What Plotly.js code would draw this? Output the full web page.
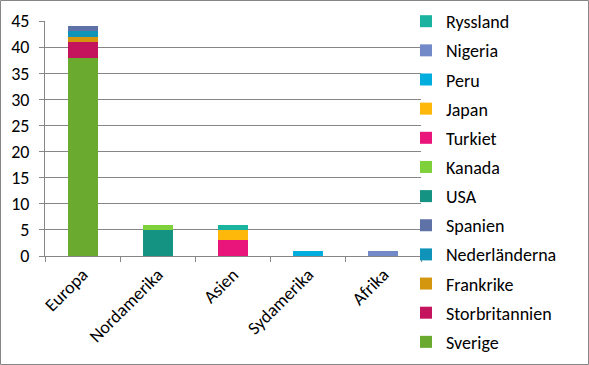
<!DOCTYPE html>
<html><head><meta charset="utf-8">
<script src="https://cdn.plot.ly/plotly-3.0.1.min.js"></script>
<style>html,body{margin:0;padding:0;background:#fff}#chart{width:589px;height:365px}</style>
</head><body><div id="chart"></div>
<script>
const categories = ["Europa", "Nordamerika", "Asien", "Sydamerika", "Afrika"];
const seriesNames = ["Sverige", "Storbritannien", "Frankrike", "Nederländerna", "Spanien", "USA", "Kanada", "Turkiet", "Japan", "Peru", "Nigeria", "Ryssland"];
const Sverige        = [38, 0, 0, 0, 0];
const Storbritannien = [3, 0, 0, 0, 0];
const Frankrike      = [1, 0, 0, 0, 0];
const Nederlanderna  = [1, 0, 0, 0, 0];
const Spanien        = [1, 0, 0, 0, 0];
const USA            = [0, 5, 0, 0, 0];
const Kanada         = [0, 1, 0, 0, 0];
const Turkiet        = [0, 0, 3, 0, 0];
const Japan          = [0, 0, 2, 0, 0];
const Peru           = [0, 0, 0, 1, 0];
const Nigeria        = [0, 0, 0, 0, 1];
const Ryssland       = [0, 0, 1, 0, 0];
const seriesValues = [Sverige, Storbritannien, Frankrike, Nederlanderna, Spanien, USA, Kanada, Turkiet, Japan, Peru, Nigeria, Ryssland];
const colors = ["#6AAA2E", "#C4145E", "#D4960E", "#0F93B9", "#5F72A8", "#149383", "#7FD13B", "#EA157A", "#FEB80A", "#00ADDC", "#738AC8", "#1AB39F"];
const yTicks = [0, 5, 10, 15, 20, 25, 30, 35, 40, 45];

const font = "Carlito, Calibri, 'Open Sans', 'Noto Sans', sans-serif";
const traces = seriesNames.map((n, i) => ({
  type: "bar", name: n, x: categories, y: seriesValues[i],
  marker: {color: colors[i], line: {width: 0}},
  width: 0.4, legendgroup: "g" + i, legendrank: 1000 + (seriesNames.length - i),
  hoverinfo: "name+y"
}));

const L = 45, R = 421, T = 21, B = 256, W = 589, H = 365;
const px2x = p => (p - L) / (R - L);
const px2y = p => (B - p) / (B - T);

const layout = {
  width: W, height: H,
  margin: {l: L, r: W - R, t: T, b: H - B, pad: 0, autoexpand: false},
  paper_bgcolor: "#fff", plot_bgcolor: "#fff",
  barmode: "stack",
  bargap: 0.6,
  showlegend: true,
  font: {family: font, color: "#000", size: 18},
  xaxis: {
    type: "category", tickangle: -45, tickson: "boundaries", automargin: false,
    ticks: "outside", ticklen: 5, tickcolor: "#868686",
    showline: true, linecolor: "#868686", linewidth: 1,
    showgrid: false, tickfont: {size: 18, family: font}
  },
  yaxis: {
    range: [0, 45], tickvals: yTicks, ticks: "outside", ticklen: 5, tickcolor: "#868686",
    showline: true, linecolor: "#868686", linewidth: 1, automargin: false,
    showgrid: true, gridcolor: "#868686", gridwidth: 1, zeroline: false,
    tickfont: {size: 18, family: font}, ticklabelstandoff: 6
  },
  legend: {
    x: px2x(406), xanchor: "left", y: px2y(3), yanchor: "top",
    traceorder: "grouped", tracegroupgap: 2.75, maxheight: 420,
    font: {size: 18, family: font}, bgcolor: "rgba(0,0,0,0)"
  },
  shapes: [{
    type: "rect", xref: "paper", yref: "paper",
    x0: px2x(0.5), x1: px2x(588.5), y0: px2y(364.5), y1: px2y(0.5),
    line: {color: "#868686", width: 1}, fillcolor: "rgba(0,0,0,0)", layer: "below"
  }]
};
Plotly.newPlot("chart", traces, layout, {staticPlot: true, displayModeBar: false});
</script></body></html>
